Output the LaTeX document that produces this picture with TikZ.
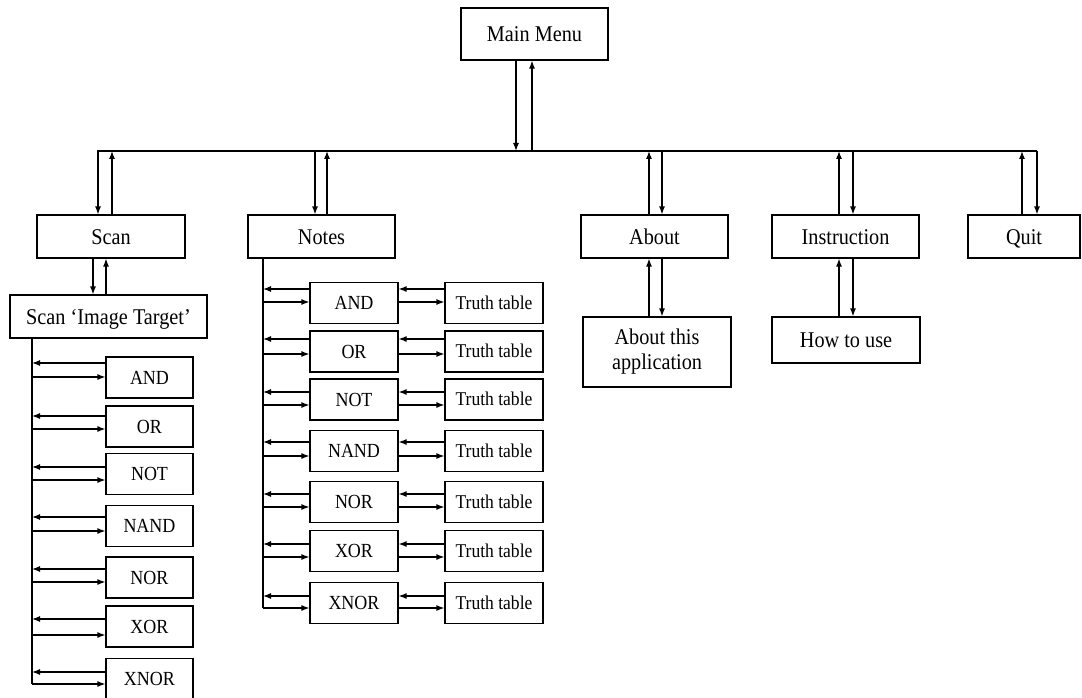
\documentclass[tikz,border=0pt]{standalone}
\usepackage{fontspec}
\setmainfont{Liberation Serif}[FakeStretch=0.9]
\usetikzlibrary{arrows.meta}
\begin{document}
\begin{tikzpicture}[x=1pt,y=-1pt,
  base/.style={draw,line width=1.2pt,inner sep=0pt,align=center,font=\fontsize{22.5}{25}\selectfont},
  box/.style={base,text height=15pt,text depth=0pt},
  gate/.style={base,minimum width=87pt,minimum height=41pt,font=\fontsize{20}{22}\selectfont,text height=13.2pt,text depth=0pt},
  tt/.style={base,minimum width=98pt,minimum height=41pt,font=\fontsize{19.5}{22}\selectfont,text height=12.9pt,text depth=0pt},
  ln/.style={line width=1.2pt},
  arr/.style={ln,-{Latex[length=8pt,width=6pt]}}]
\useasboundingbox (0,0) rectangle (1082,698);
\clip (0,0) rectangle (1082,698);
% top-level nodes
\node[box,minimum width=147pt,minimum height=52pt] (mm) at (534.5,34) {Main Menu};
\node[box,minimum width=148pt,minimum height=43pt] (scan) at (111,236.5) {Scan};
\node[box,minimum width=147pt,minimum height=43pt] (notes) at (321.5,236.5) {Notes};
\node[box,minimum width=147pt,minimum height=43pt] (about) at (654.5,236.5) {About};
\node[box,minimum width=147pt,minimum height=43pt] (instr) at (845.5,236.5) {Instruction};
\node[box,minimum width=112pt,minimum height=43pt] (quit) at (1024,236.5) {Quit};
\node[box,minimum width=197pt,minimum height=43pt] (sit) at (108.5,316.5) {Scan ‘Image Target’};
\node[base,minimum width=148pt,minimum height=70pt] (ata) at (657,352) {About this\\application};
\node[box,minimum width=148pt,minimum height=46pt] (htu) at (846,340) {How to use};
% bus
\coordinate (busL) at (97,151);
\coordinate (busR) at (1037,151);
\draw[ln] (busL) -- (busR);
% main menu to bus
\draw[arr] (516,0 |- mm.south) -- (516,0 |- busL);
\draw[arr] (532,0 |- busL) -- (532,0 |- mm.south);
% bus to children
\draw[arr] (98,0 |- busL) -- (98,0 |- scan.north);
\draw[arr] (112,0 |- scan.north) -- (112,0 |- busL);
\draw[arr] (315,0 |- busL) -- (315,0 |- notes.north);
\draw[arr] (327,0 |- notes.north) -- (327,0 |- busL);
\draw[arr] (649,0 |- about.north) -- (649,0 |- busL);
\draw[arr] (662,0 |- busL) -- (662,0 |- about.north);
\draw[arr] (839,0 |- instr.north) -- (839,0 |- busL);
\draw[arr] (853,0 |- busL) -- (853,0 |- instr.north);
\draw[arr] (1022,0 |- quit.north) -- (1022,0 |- busL);
\draw[arr] (1037,0 |- busL) -- (1037,0 |- quit.north);
% second level
\draw[arr] (93,0 |- scan.south) -- (93,0 |- sit.north);
\draw[arr] (106,0 |- sit.north) -- (106,0 |- scan.south);
\draw[arr] (649,0 |- ata.north) -- (649,0 |- about.south);
\draw[arr] (662,0 |- about.south) -- (662,0 |- ata.north);
\draw[arr] (839,0 |- htu.north) -- (839,0 |- instr.south);
\draw[arr] (853,0 |- instr.south) -- (853,0 |- htu.north);
% scan gates
\coordinate (sl) at (32,338);
\draw[ln] (sl |- sit.south) -- (32,684);
\foreach \i/\t/\c/\a/\b in {1/AND/377.5/363/377, 2/OR/426.5/416/429, 3/NOT/474/467/480, 4/NAND/526/517/531, 5/NOR/577.5/569/582, 6/XOR/626.5/619/635, 7/XNOR/679/672/684}{
  \node[gate] (s\i) at (149.5,\c) {\t};
  \draw[arr] (s\i.west |- 0,\a) -- (sl |- 0,\a);
  \draw[arr] (sl |- 0,\b) -- (s\i.west |- 0,\b);
}
% notes gates
\coordinate (nl) at (263,258);
\draw[ln] (nl |- notes.south) -- (263,608);
\foreach \i/\t/\c/\a/\b in {1/AND/303/289/302, 2/OR/351.5/339/354, 3/NOT/399.5/392/405, 4/NAND/451/442/456, 5/NOR/502/494/507, 6/XOR/551/544/557, 7/XNOR/603/596/608}{
  \node[gate,minimum width=88pt] (n\i) at (354,\c) {\t};
  \node[tt] (t\i) at (494,\c) {Truth table};
  \draw[arr] (n\i.west |- 0,\a) -- (nl |- 0,\a);
  \draw[arr] (nl |- 0,\b) -- (n\i.west |- 0,\b);
  \draw[arr] (t\i.west |- 0,\a) -- (n\i.east |- 0,\a);
  \draw[arr] (n\i.east |- 0,\b) -- (t\i.west |- 0,\b);
}
\end{tikzpicture}
\end{document}
